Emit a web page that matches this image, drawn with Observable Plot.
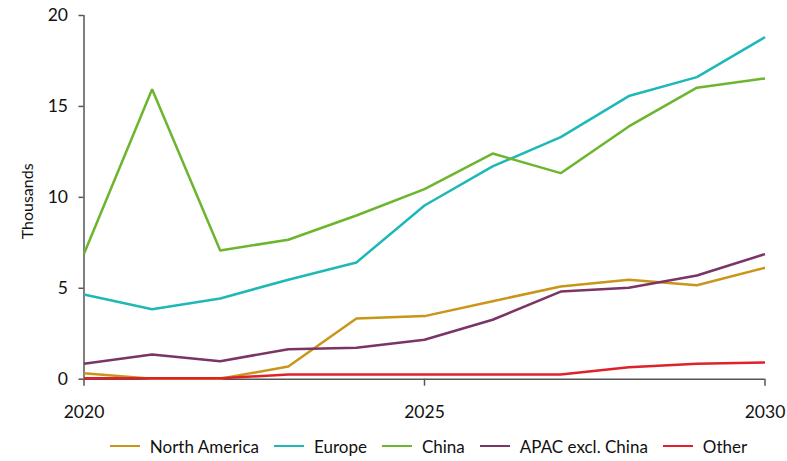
<!DOCTYPE html>
<html>
<head>
<meta charset="utf-8">
<script src="https://cdn.jsdelivr.net/npm/d3@7"></script>
<script src="https://cdn.jsdelivr.net/npm/@observablehq/plot@0.6"></script>
<style>
  body { margin: 0; background: #fff; font-family: Lato, "Open Sans", sans-serif; }
  #chart { width: 787px; }
  .legend { display: flex; justify-content: center; align-items: center; font-size: 17px; color: #111; height: 30px; margin-top: 1px; padding-left: 85px; }
  .legend .item { display: flex; align-items: center; margin-right: 15px; }
  .legend .sw { width: 30px; height: 2.5px; margin-right: 10px; }
</style>
</head>
<body>
<div id="chart"></div>
<script>
const years = [2020, 2021, 2022, 2023, 2024, 2025, 2026, 2027, 2028, 2029, 2030];
const seriesNames = ["North America", "Europe", "China", "APAC excl. China", "Other"];
const northAmerica = [0.33, 0.02, 0.02, 0.70, 3.34, 3.47, 4.29, 5.10, 5.47, 5.17, 6.13];
const europe = [4.66, 3.85, 4.44, 5.47, 6.42, 9.55, 11.70, 13.31, 15.57, 16.61, 18.81];
const china = [6.90, 15.95, 7.08, 7.67, 9.00, 10.45, 12.41, 11.33, 13.90, 16.03, 16.54];
const apac = [0.85, 1.36, 0.99, 1.65, 1.73, 2.17, 3.27, 4.82, 5.03, 5.70, 6.88];
const other = [0.05, 0.05, 0.05, 0.26, 0.26, 0.26, 0.26, 0.26, 0.66, 0.85, 0.92];
const colors = ["#C9961A", "#1FB8B8", "#6DB52E", "#7A3565", "#E0202A"];
const xTicks = [2020, 2025, 2030];
const yTicks = [0, 5, 10, 15, 20];

const valuesBySeries = [northAmerica, europe, china, apac, other];
const data = [];
seriesNames.forEach((s, i) => years.forEach((y, j) => data.push({series: s, year: y, value: valuesBySeries[i][j]})));

const chart = Plot.plot({
  width: 787,
  height: 430,
  marginLeft: 83.5,
  marginRight: 22.5,
  marginTop: 15,
  marginBottom: 51.3,
  style: {fontFamily: "Lato, 'Open Sans', sans-serif", fontSize: "17px", color: "#111", background: "#fff"},
  x: {domain: [2020, 2030], label: null},
  y: {domain: [0, 20], label: null},
  color: {domain: seriesNames, range: colors},
  marks: [
    Plot.axisX({ticks: xTicks, tickFormat: d => String(d), tickSize: 7, tickPadding: 19, stroke: "#555", strokeWidth: 1.5, label: null, fontSize: 17.5}),
    Plot.axisY({ticks: yTicks, tickSize: 5, tickPadding: 11, stroke: "#555", strokeWidth: 1.5, label: null, fontSize: 17.5}),
    Plot.ruleY([0], {stroke: "#555", strokeWidth: 1.5}),
    Plot.ruleX([2020], {stroke: "#555", strokeWidth: 1.5}),
    Plot.line(data, {x: "year", y: "value", z: "series", stroke: "series", strokeWidth: 2.5, strokeLinejoin: "miter", strokeLinecap: "butt"}),
    Plot.text(["Thousands"], {frameAnchor: "left", dx: -56, dy: 4, rotate: -90, textAnchor: "middle", fontSize: 16, fill: "#111"})
  ]
});
document.getElementById("chart").appendChild(chart);

const legend = document.createElement("div");
legend.className = "legend";
seriesNames.forEach((s, i) => {
  const item = document.createElement("div");
  item.className = "item";
  const sw = document.createElement("div");
  sw.className = "sw";
  sw.style.background = colors[i];
  const label = document.createElement("span");
  label.textContent = s;
  item.appendChild(sw);
  item.appendChild(label);
  legend.appendChild(item);
});
document.getElementById("chart").appendChild(legend);
</script>
</body>
</html>
